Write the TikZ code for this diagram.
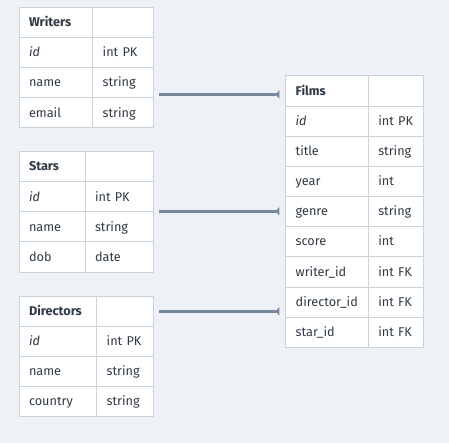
\documentclass[tikz,border=0pt]{standalone}
\usepackage{fontspec}
\setmainfont{Fira Sans}
\usetikzlibrary{arrows.meta}
\definecolor{bg}{HTML}{EEF2F6}
\definecolor{cellline}{HTML}{C9D3DD}
\definecolor{txt}{HTML}{2F3A45}
\definecolor{conn}{HTML}{77879A}
\tikzset{
  cell/.style={rectangle, draw=cellline, fill=white, line width=1pt, anchor=north west,
    inner xsep=10pt, inner ysep=0pt, outer sep=0pt, minimum height=30.1pt, align=left,
    text height=11pt, text depth=2.6pt,
    text=txt, font=\fontsize{12.7}{15}\selectfont},
  rel/.style={draw=conn, line width=2.6pt, -{Triangle[reversed,length=4pt,width=8pt]}}
}
\begin{document}
\begin{tikzpicture}[x=1pt,y=-1pt]
\fill[bg] (0,0) rectangle (449,443);
\useasboundingbox (0,0) rectangle (449,443);
% Writers
\foreach [count=\i from 0] \a/\b in {\textbf{Writers}/{}, \textit{id}/int PK, name/string, email/string}{
  \node[cell, text width=53.7pt] (W\i a) at (19,{7.5+\i*30.1}) {\mbox{\a}};
  \node[cell, text width=40.6pt] (W\i b) at (92.7,{7.5+\i*30.1}) {\mbox{\b}};
}
% Stars
\foreach [count=\i from 0] \a/\b in {\textbf{Stars}/{}, \textit{id}/int PK, name/string, dob/date}{
  \node[cell, text width=46pt] (S\i a) at (19,{151.7+\i*30.1}) {\mbox{\a}};
  \node[cell, text width=48.3pt] (S\i b) at (85,{151.7+\i*30.1}) {\mbox{\b}};
}
% Directors
\foreach [count=\i from 0] \a/\b in {\textbf{Directors}/{}, \textit{id}/int PK, name/string, country/string}{
  \node[cell, text width=57.7pt] (D\i a) at (19,{296.3+\i*30.1}) {\mbox{\a}};
  \node[cell, text width=36.6pt] (D\i b) at (96.7,{296.3+\i*30.1}) {\mbox{\b}};
}
% Films
\foreach [count=\i from 0] \a/\b in {\textbf{Films}/{}, \textit{id}/int PK, title/string, year/int, genre/string, score/int, writer\_id/int FK, director\_id/int FK, star\_id/int FK}{
  \node[cell, text width=62.6pt] (F\i a) at (285.7,{76+\i*30.15}) {\mbox{\a}};
  \node[cell, text width=35pt] (F\i b) at (368.3,{76+\i*30.15}) {\mbox{\b}};
}
% connector ends
\coordinate (ws) at (159,94.3);  \coordinate (wt) at (279.3,94.3);
\coordinate (ss) at (159,211.3); \coordinate (st) at (279.3,211.3);
\coordinate (ds) at (159,311.3); \coordinate (dt) at (279.3,311.3);
\draw[rel] (ws) -- (wt);
\draw[rel] (ss) -- (st);
\draw[rel] (ds) -- (dt);
\end{tikzpicture}
\end{document}
